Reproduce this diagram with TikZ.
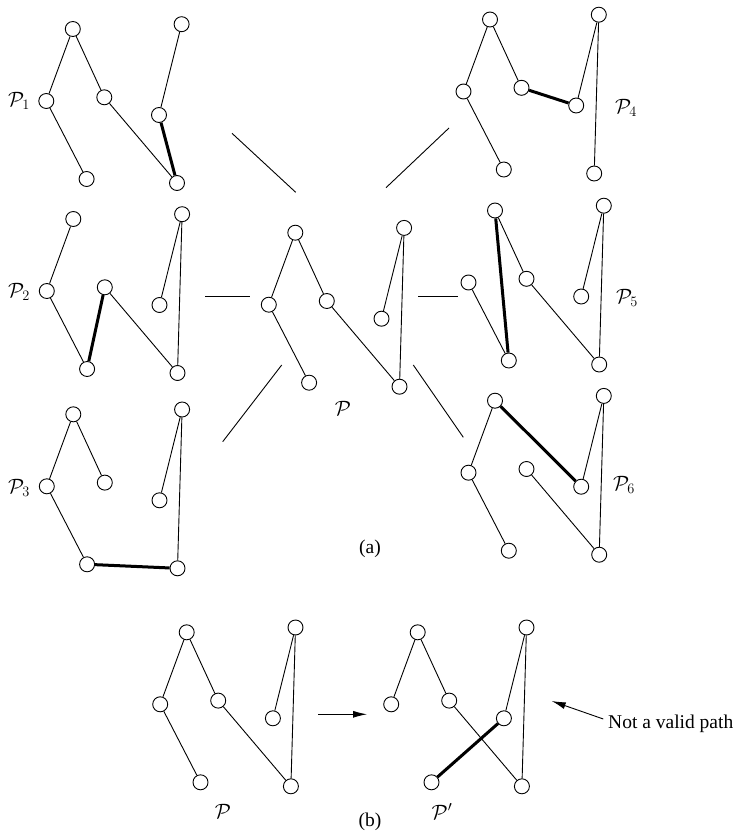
\documentclass[tikz,border=0pt]{standalone}
\usepackage{fontspec}
\setmainfont{Liberation Serif}
\usetikzlibrary{arrows.meta}

\tikzset{
  vtx/.style={circle, draw, line width=0.9pt, minimum size=15pt, inner sep=0pt, fill=white},
  edge/.style={line width=0.9pt},
  hot/.style={line width=3pt},
  link/.style={line width=0.9pt},
  lbl/.style={font=\fontsize{19.5}{22}\selectfont, inner sep=0pt},
  tip/.style={-{Latex[length=14pt,width=7pt]}, line width=0.9pt},
}

% seven vertices of one path drawing, placed relative to its top vertex
\newcommand\hamgraph[3]{%
  \begin{scope}[shift={(#2,#3)}]
    \node[vtx] (#1-a)  at (0,0) {};
    \node[vtx] (#1-l)  at (-26.5,72) {};
    \node[vtx] (#1-m)  at (31.5,68.3) {};
    \node[vtx] (#1-bl) at (13.8,150) {};
    \node[vtx] (#1-br) at (104.2,154) {};
    \node[vtx] (#1-rm) at (86.2,86) {};
    \node[vtx] (#1-tr) at (108.8,-4.8) {};
  \end{scope}}

\begin{document}
\begin{tikzpicture}[x=1pt, y=-1pt]
\useasboundingbox (0,0) rectangle (735,832);

% ---------- (a) ----------
\hamgraph{c}{295.3}{232.7}
\hamgraph{p1}{72.8}{29}
\hamgraph{p2}{73.3}{219}
\hamgraph{p3}{73.3}{414.3}
\hamgraph{p4}{490}{19.5}
\hamgraph{p5}{495}{210.5}
\hamgraph{p6}{495}{400.7}

% original path
\draw[edge] (c-bl) -- (c-l) -- (c-a) -- (c-m) -- (c-br) -- (c-tr) -- (c-rm);
% neighbours
\draw[edge] (p1-bl) -- (p1-l) -- (p1-a) -- (p1-m) -- (p1-br);
\draw[edge] (p1-rm) -- (p1-tr);
\draw[hot]  (p1-br) -- (p1-rm);

\draw[edge] (p2-a) -- (p2-l) -- (p2-bl);
\draw[edge] (p2-m) -- (p2-br) -- (p2-tr) -- (p2-rm);
\draw[hot]  (p2-bl) -- (p2-m);

\draw[edge] (p3-m) -- (p3-a) -- (p3-l) -- (p3-bl);
\draw[edge] (p3-br) -- (p3-tr) -- (p3-rm);
\draw[hot]  (p3-bl) -- (p3-br);

\draw[edge] (p4-bl) -- (p4-l) -- (p4-a) -- (p4-m);
\draw[edge] (p4-rm) -- (p4-tr) -- (p4-br);
\draw[hot]  (p4-m) -- (p4-rm);

\draw[edge] (p5-l) -- (p5-bl);
\draw[edge] (p5-a) -- (p5-m) -- (p5-br) -- (p5-tr) -- (p5-rm);
\draw[hot]  (p5-a) -- (p5-bl);

\draw[edge] (p6-a) -- (p6-l) -- (p6-bl);
\draw[edge] (p6-m) -- (p6-br) -- (p6-tr) -- (p6-rm);
\draw[hot]  (p6-a) -- (p6-rm);

% links between the original path and its neighbours
\coordinate (k1a) at (232,133.3);   \coordinate (k1b) at (295.7,192.3);
\coordinate (k4a) at (386,187.7);   \coordinate (k4b) at (449,128);
\coordinate (k2a) at (205,296.7);   \coordinate (k2b) at (250,296.7);
\coordinate (k5a) at (418,296.7);   \coordinate (k5b) at (458.3,296.7);
\coordinate (k3a) at (281.7,365);   \coordinate (k3b) at (222.7,441.7);
\coordinate (k6a) at (413.3,365);   \coordinate (k6b) at (463.3,437.3);
\draw[link] (k1a) -- (k1b);
\draw[link] (k4a) -- (k4b);
\draw[link] (k2a) -- (k2b);
\draw[link] (k5a) -- (k5b);
\draw[link] (k3a) -- (k3b);
\draw[link] (k6a) -- (k6b);

% labels
\node[lbl] (lc)  at (343,408)   {$\mathcal{P}$};
\node[lbl] (l1)  at (19,101)    {$\mathcal{P}_1$};
\node[lbl] (l2)  at (19,292)    {$\mathcal{P}_2$};
\node[lbl] (l3)  at (19,488)    {$\mathcal{P}_3$};
\node[lbl] (l4)  at (626,108)   {$\mathcal{P}_4$};
\node[lbl] (l5)  at (627,298)   {$\mathcal{P}_5$};
\node[lbl] (l6)  at (624,485)   {$\mathcal{P}_6$};
\node[lbl] (capa) at (370,549)  {(a)};

% ---------- (b) ----------
\hamgraph{q}{186.7}{632.3}
\hamgraph{r}{417.7}{632.3}

\draw[edge] (q-bl) -- (q-l) -- (q-a) -- (q-m) -- (q-br) -- (q-tr) -- (q-rm);

\draw[edge] (r-l) -- (r-a) -- (r-m) -- (r-br) -- (r-tr) -- (r-rm);
\draw[hot]  (r-rm) -- (r-bl);

\coordinate (b1) at (318.3,714.3);
\coordinate (b2) at (367,714.3);
\draw[tip] (b1) -- (b2);

\node[lbl, anchor=base west] (bad) at (608,728) {Not a valid path};
\coordinate (bt) at (603.3,719);
\coordinate (bh) at (551.7,701);
\draw[tip] (bt) -- (bh);

\node[lbl] (lq)  at (223,811.7)   {$\mathcal{P}$};
\node[lbl] (lr)  at (442,811.7)   {$\mathcal{P}'$};
\node[lbl] (capb) at (370,821.7)  {(b)};
\end{tikzpicture}
\end{document}
